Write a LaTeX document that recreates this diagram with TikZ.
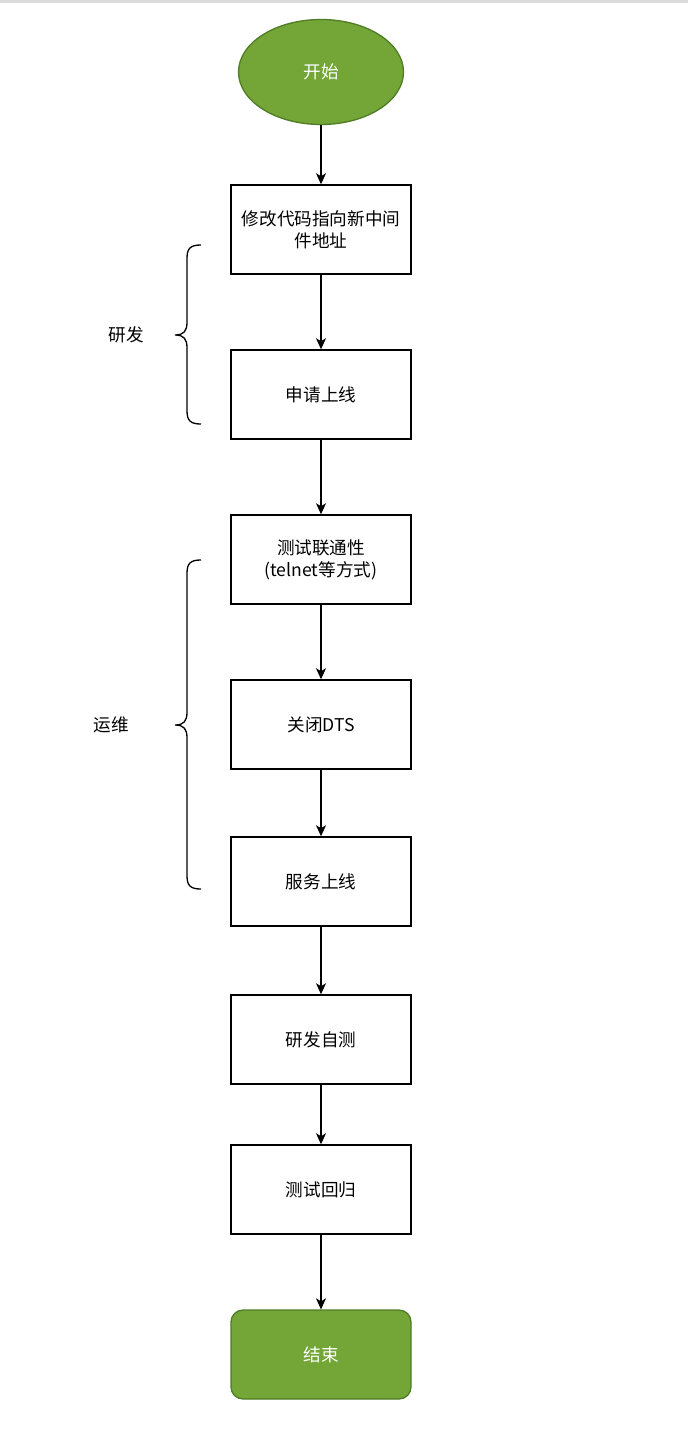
\documentclass[tikz,border=0pt]{standalone}
\usepackage{fontspec}
\setmainfont{Noto Sans CJK SC}
\usetikzlibrary{arrows.meta,shapes.geometric}
\definecolor{gfill}{RGB}{115,166,55}
\definecolor{gdraw}{RGB}{80,124,38}
\begin{document}
\begin{tikzpicture}[x=1pt,y=-1pt,
  txt/.style={font=\fontsize{17.6}{22}\selectfont},
  stepbox/.style={draw=black,line width=1.5pt,minimum width=180pt,minimum height=89pt,align=center,inner sep=2pt,txt,text width=174pt},
  arr/.style={-{Stealth[length=11pt,width=10pt,inset=3pt]},line width=1.3pt},
  brc/.style={line width=1.3pt}]
\useasboundingbox (0,0) rectangle (688,1440);
\fill[white] (0,0) rectangle (688,1440);
\fill[black!14] (0,0) rectangle (688,3);
\node[ellipse,draw=gdraw,fill=gfill,line width=1.3pt,minimum width=165pt,minimum height=105pt,text=white,txt] (start) at (321,72) {开始};
\node[stepbox] (b1) at (321,229.5) {修改代码指向新中间\\件地址};
\node[stepbox] (b2) at (321,394.5) {申请上线};
\node[stepbox] (b3) at (321,559.5) {测试联通性\\(telnet等方式)};
\node[stepbox] (b4) at (321,724.5) {关闭DTS};
\node[stepbox] (b5) at (321,881.5) {服务上线};
\node[stepbox] (b6) at (321,1039.5) {研发自测};
\node[stepbox] (b7) at (321,1189.5) {测试回归};
\node[draw=gdraw,fill=gfill,line width=1.3pt,rounded corners=12pt,minimum width=180pt,minimum height=89pt,text=white,txt] (end) at (321,1354.5) {结束};
\draw[arr] (start) -- (b1);
\draw[arr] (b1) -- (b2);
\draw[arr] (b2) -- (b3);
\draw[arr] (b3) -- (b4);
\draw[arr] (b4) -- (b5);
\draw[arr] (b5) -- (b6);
\draw[arr] (b6) -- (b7);
\draw[arr] (b7) -- (end);
\draw[brc] (201,245) .. controls (191,245) and (187,248) .. (187,258) -- (187,322) .. controls (187,331) and (184,335) .. (175,335) .. controls (184,335) and (187,339) .. (187,348) -- (187,411) .. controls (187,421) and (191,424) .. (201,424);
\node[txt] (l1) at (126,335) {研发};
\draw[brc] (201,560) .. controls (191,560) and (187,563) .. (187,573) -- (187,712) .. controls (187,721) and (184,725) .. (175,725) .. controls (184,725) and (187,729) .. (187,738) -- (187,876) .. controls (187,886) and (191,889) .. (201,889);
\node[txt] (l2) at (111,725) {运维};
\end{tikzpicture}
\end{document}
